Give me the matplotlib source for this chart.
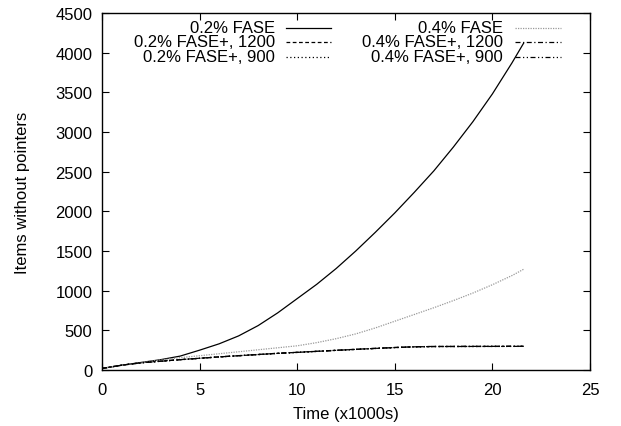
import matplotlib
matplotlib.use('Agg')
import matplotlib.pyplot as plt
from matplotlib.lines import Line2D

plt.rcParams['font.family'] = ['Liberation Sans', 'DejaVu Sans']

# time axis (x1000s)
time = [0, 0.5, 1, 2, 3, 4, 5, 6, 7, 8, 9, 10, 11, 12, 13, 14, 15, 16,
        17, 18, 19, 20, 21, 21.6]

fase_02 = [20, 40, 60, 95, 130, 175, 250, 330, 430, 560, 720, 900, 1080,
           1280, 1500, 1735, 1980, 2240, 2510, 2810, 3130, 3480, 3870, 4120]
fase_plus_02_1200 = [20, 40, 60, 92, 112, 131, 148, 165, 180, 195, 210, 222,
                     235, 248, 260, 272, 283, 292, 296, 296, 297, 297, 298, 298]
fase_plus_02_900 = [20, 40, 60, 90, 110, 130, 147, 164, 180, 194, 209, 221,
                    234, 247, 259, 271, 282, 291, 295, 296, 296, 297, 297, 298]
fase_04 = [20, 40, 60, 95, 125, 155, 180, 205, 230, 255, 280, 305, 345, 395,
           455, 530, 615, 700, 785, 875, 970, 1075, 1190, 1270]
fase_plus_04_1200 = [20, 40, 60, 91, 111, 130, 148, 166, 181, 196, 211, 223,
                     236, 249, 261, 273, 284, 293, 297, 297, 298, 298, 299, 299]
fase_plus_04_900 = [20, 40, 60, 90, 110, 129, 147, 165, 180, 195, 210, 222,
                    235, 248, 260, 272, 283, 292, 296, 297, 297, 298, 298, 299]

labels = ['0.2% FASE', '0.2% FASE+, 1200', '0.2% FASE+, 900',
          '0.4% FASE', '0.4% FASE+, 1200', '0.4% FASE+, 900']
series = [fase_02, fase_plus_02_1200, fase_plus_02_900,
          fase_04, fase_plus_04_1200, fase_plus_04_900]
styles = [
    dict(color='black', linestyle='-'),
    dict(color='black', linestyle=(0, (3, 2))),
    dict(color='black', linestyle=(0, (1, 2))),
    dict(color='#999999', linestyle=(0, (1, 1))),
    dict(color='black', linestyle=(0, (4, 2, 1, 2))),
    dict(color='black', linestyle=(0, (4, 2, 1, 2, 1, 2))),
]

fig = plt.figure(figsize=(6.21, 4.27), dpi=100)
ax = fig.add_axes([102 / 621, 56 / 427, 488 / 621, 357 / 427])

for ys, st in zip(series, styles):
    ax.plot(time, ys, linewidth=0.9, **st)

ax.set_xlim(0, 25)
ax.set_ylim(0, 4500)
ax.set_xticks(range(0, 26, 5))
ax.set_yticks(range(0, 4501, 500))
ax.tick_params(direction='in', length=5, width=0.8, top=True, right=True,
               labelsize=12)
ax.tick_params(axis='x', pad=9)
ax.tick_params(axis='y', pad=7)
for sp in ax.spines.values():
    sp.set_linewidth(1.0)

ax.set_xlabel('Time (x1000s)', fontsize=12, labelpad=6)
ax.set_ylabel('Items without pointers', fontsize=12, labelpad=18)

# gnuplot-style key: text right-aligned, sample to the right, two columns
rows_y = [0.958, 0.919, 0.877]
cols = [(0.3545, 0.377, 0.469), (0.822, 0.846, 0.941)]
for i, (lab, st) in enumerate(zip(labels, styles)):
    tx, x0, x1 = cols[i // 3]
    yy = rows_y[i % 3]
    ax.text(tx, yy, lab, transform=ax.transAxes, ha='right', va='center',
            fontsize=12)
    ax.add_line(Line2D([x0, x1], [yy, yy], transform=ax.transAxes,
                       linewidth=0.9, **st))

fig.savefig('out.png', dpi=100)
